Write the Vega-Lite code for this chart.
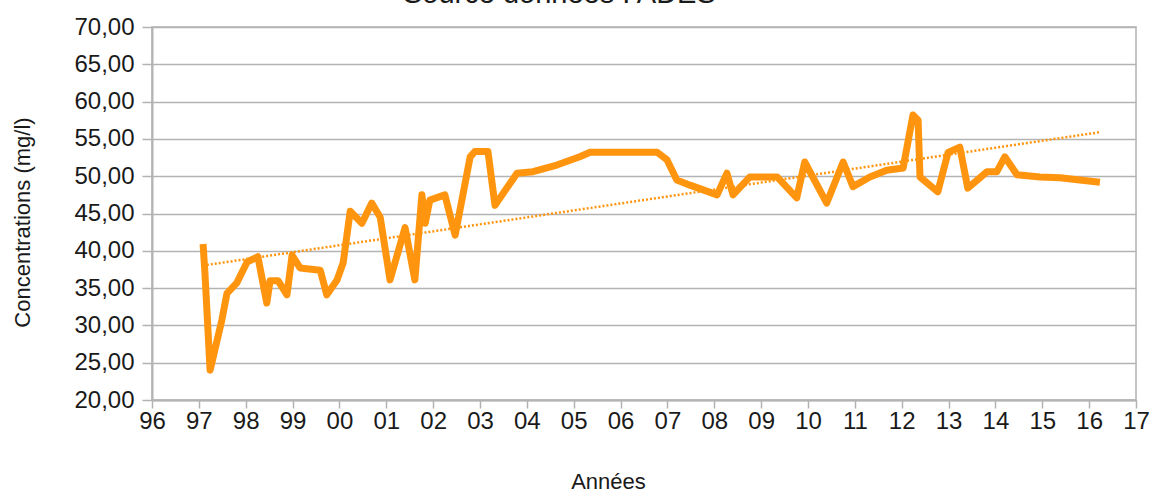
{
  "$schema": "https://vega.github.io/schema/vega-lite/v6.json",
  "width": 984,
  "height": 373,
  "autosize": "none",
  "padding": {"left": 152, "top": 27, "right": 14, "bottom": 93},
  "background": "white",
  "config": {
    "view": {"stroke": "#b3b3b3", "strokeWidth": 1.5},
    "font": "Liberation Sans"
  },
  "title": {
    "text": "Source données : ADES",
    "font": "Liberation Sans",
    "fontSize": 29,
    "fontWeight": "normal",
    "color": "#1a1a1a",
    "frame": "group",
    "anchor": "start",
    "dx": 251,
    "offset": 6
  },
  "datasets": {
    "mesures": [
      {"annee": 1997.09, "conc": 40.9},
      {"annee": 1997.13, "conc": 37.0},
      {"annee": 1997.24, "conc": 24.0},
      {"annee": 1997.49, "conc": 30.7},
      {"annee": 1997.60, "conc": 34.3},
      {"annee": 1997.81, "conc": 35.7},
      {"annee": 1998.03, "conc": 38.5},
      {"annee": 1998.26, "conc": 39.2},
      {"annee": 1998.45, "conc": 33.0},
      {"annee": 1998.52, "conc": 36.0},
      {"annee": 1998.69, "conc": 36.0},
      {"annee": 1998.88, "conc": 34.1},
      {"annee": 1998.99, "conc": 39.4},
      {"annee": 1999.16, "conc": 37.7},
      {"annee": 1999.59, "conc": 37.4},
      {"annee": 1999.73, "conc": 34.1},
      {"annee": 1999.95, "conc": 36.1},
      {"annee": 2000.08, "conc": 38.4},
      {"annee": 2000.23, "conc": 45.3},
      {"annee": 2000.48, "conc": 43.7},
      {"annee": 2000.69, "conc": 46.4},
      {"annee": 2000.87, "conc": 44.5},
      {"annee": 2001.08, "conc": 36.1},
      {"annee": 2001.40, "conc": 43.1},
      {"annee": 2001.61, "conc": 36.1},
      {"annee": 2001.76, "conc": 47.5},
      {"annee": 2001.83, "conc": 43.7},
      {"annee": 2001.93, "conc": 46.8},
      {"annee": 2002.25, "conc": 47.5},
      {"annee": 2002.47, "conc": 42.1},
      {"annee": 2002.79, "conc": 52.6},
      {"annee": 2002.89, "conc": 53.3},
      {"annee": 2003.17, "conc": 53.3},
      {"annee": 2003.32, "conc": 46.1},
      {"annee": 2003.79, "conc": 50.4},
      {"annee": 2004.13, "conc": 50.6},
      {"annee": 2004.64, "conc": 51.5},
      {"annee": 2005.13, "conc": 52.6},
      {"annee": 2005.35, "conc": 53.2},
      {"annee": 2006.78, "conc": 53.2},
      {"annee": 2006.99, "conc": 52.2},
      {"annee": 2007.20, "conc": 49.5},
      {"annee": 2007.48, "conc": 48.8},
      {"annee": 2008.06, "conc": 47.5},
      {"annee": 2008.27, "conc": 50.4},
      {"annee": 2008.40, "conc": 47.5},
      {"annee": 2008.76, "conc": 49.9},
      {"annee": 2009.34, "conc": 49.9},
      {"annee": 2009.76, "conc": 47.1},
      {"annee": 2009.93, "conc": 51.9},
      {"annee": 2010.40, "conc": 46.4},
      {"annee": 2010.75, "conc": 51.9},
      {"annee": 2010.96, "conc": 48.6},
      {"annee": 2011.32, "conc": 49.9},
      {"annee": 2011.68, "conc": 50.8},
      {"annee": 2012.03, "conc": 51.1},
      {"annee": 2012.24, "conc": 58.2},
      {"annee": 2012.35, "conc": 57.5},
      {"annee": 2012.39, "conc": 49.9},
      {"annee": 2012.77, "conc": 47.9},
      {"annee": 2012.99, "conc": 53.2},
      {"annee": 2013.24, "conc": 53.9},
      {"annee": 2013.41, "conc": 48.4},
      {"annee": 2013.82, "conc": 50.6},
      {"annee": 2014.03, "conc": 50.6},
      {"annee": 2014.20, "conc": 52.6},
      {"annee": 2014.46, "conc": 50.2},
      {"annee": 2014.95, "conc": 49.9},
      {"annee": 2015.38, "conc": 49.8},
      {"annee": 2015.80, "conc": 49.5},
      {"annee": 2016.23, "conc": 49.2}
    ],
    "tendance": [
      {"annee": 1997.17, "conc": 38.1},
      {"annee": 2016.23, "conc": 55.9}
    ]
  },
  "encoding": {
    "x": {
      "field": "annee",
      "type": "quantitative",
      "scale": {"domain": [1996, 2017], "nice": false, "zero": false},
      "axis": {
        "values": [1996, 1997, 1998, 1999, 2000, 2001, 2002, 2003, 2004, 2005, 2006, 2007, 2008, 2009, 2010, 2011, 2012, 2013, 2014, 2015, 2016, 2017],
        "labelExpr": "substring(toString(datum.value), 2, 4)",
        "title": "Années",
        "grid": false,
        "domainColor": "#b3b3b3",
        "domainWidth": 2,
        "tickColor": "#b3b3b3",
        "tickWidth": 1.5,
        "tickSize": 8,
        "labelPadding": 1,
        "labelFont": "Liberation Sans",
        "labelFontSize": 24,
        "labelColor": "#1a1a1a",
        "labelOverlap": false,
        "labelFlush": false,
        "titleFont": "Liberation Sans",
        "titleFontSize": 22,
        "titleFontWeight": "normal",
        "titleColor": "#1a1a1a",
        "titleX": 456,
        "titleY": 88,
        "titleBaseline": "alphabetic"
      }
    },
    "y": {
      "field": "conc",
      "type": "quantitative",
      "scale": {"domain": [20, 70], "nice": false, "zero": false},
      "axis": {
        "values": [20, 25, 30, 35, 40, 45, 50, 55, 60, 65, 70],
        "labelExpr": "replace(format(datum.value, '.2f'), '.', ',')",
        "title": "Concentrations (mg/l)",
        "grid": true,
        "gridColor": "#b3b3b3",
        "gridWidth": 1.5,
        "domainColor": "#b3b3b3",
        "domainWidth": 2,
        "tickColor": "#b3b3b3",
        "tickWidth": 1.5,
        "tickSize": 10,
        "labelPadding": 8,
        "labelFont": "Liberation Sans",
        "labelFontSize": 24,
        "labelColor": "#1a1a1a",
        "labelOverlap": false,
        "labelFlush": false,
        "titleFont": "Liberation Sans",
        "titleFontSize": 22,
        "titleFontWeight": "normal",
        "titleColor": "#1a1a1a",
        "titleX": -130,
        "titleY": 195,
        "titleAngle": -90,
        "titleBaseline": "middle",
        "titleAlign": "center"
      }
    }
  },
  "layer": [
    {
      "data": {"name": "tendance"},
      "mark": {"type": "line", "color": "#ff950e", "strokeWidth": 2.5, "strokeDash": [2, 2]}
    },
    {
      "data": {"name": "mesures"},
      "mark": {"type": "line", "color": "#ff950e", "strokeWidth": 7, "strokeJoin": "round"}
    }
  ]
}
